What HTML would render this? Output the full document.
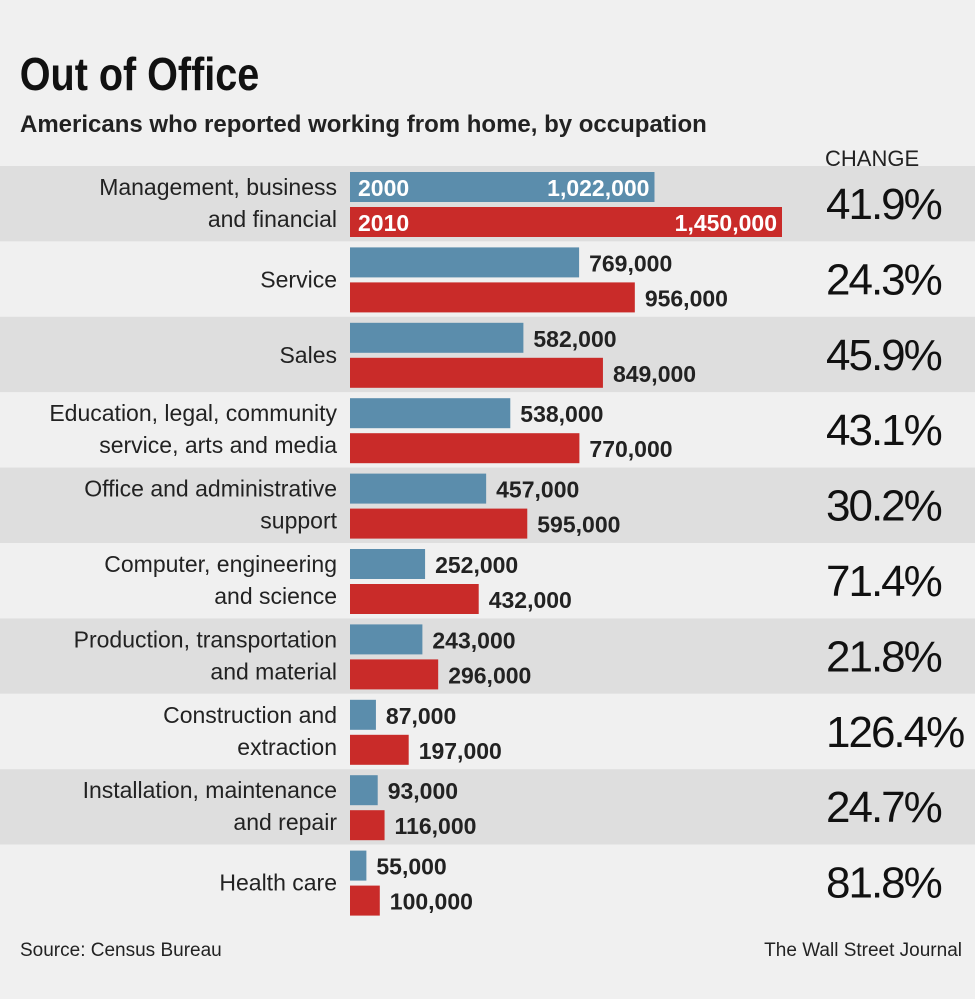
<!DOCTYPE html>
<html><head><meta charset="utf-8"><style>
body{margin:0;background:#f0f0f0;width:975px;height:994px;overflow:hidden;font-family:"Liberation Sans",sans-serif;color:#222}
</style></head><body>
<svg width="975" height="994" xmlns="http://www.w3.org/2000/svg" id="chart" font-family="Liberation Sans, sans-serif">
<rect width="975" height="994" fill="#f0f0f0"/>
<text x="23" y="90" font-size="46" font-weight="bold" fill="#111" transform="scale(0.86,1)">Out of Office</text>
<text x="20" y="132" font-size="24" font-weight="bold" fill="#222">Americans who reported working from home, by occupation</text>
<text x="825" y="166" font-size="22" fill="#222">CHANGE</text>
<g id="rows"></g>
<text x="20" y="956" font-size="19" fill="#222">Source: Census Bureau</text>
<text x="962" y="956" font-size="19" fill="#222" text-anchor="end">The Wall Street Journal</text>
</svg>
<script>
const categories=[["Management, business","and financial"],["Service"],["Sales"],["Education, legal, community","service, arts and media"],["Office and administrative","support"],["Computer, engineering","and science"],["Production, transportation","and material"],["Construction and","extraction"],["Installation, maintenance","and repair"],["Health care"]];
const values2000=[1022000,769000,582000,538000,457000,252000,243000,87000,93000,55000];
const values2010=[1450000,956000,849000,770000,595000,432000,296000,197000,116000,100000];
const changes=["41.9%","24.3%","45.9%","43.1%","30.2%","71.4%","21.8%","126.4%","24.7%","81.8%"];
const NS="http://www.w3.org/2000/svg";
const g=document.getElementById('rows');
const x0=350, xScale=v=>v*(432/1450000);
const rowTop=i=>166+i*75.4;
function mk(tag,attrs){const e=document.createElementNS(NS,tag);for(const k in attrs)e.setAttribute(k,attrs[k]);g.appendChild(e);return e;}
const fmt=v=>v.toLocaleString('en-US');
categories.forEach((c,i)=>{
  const y=rowTop(i);
  const band=mk('rect',{x:0,y:y,width:975,height:75.4,fill:i%2==0?'#dedede':'#f0f0f0'});
  
  
  if(c.length==2){
    [0,1].forEach(j=>{const t=mk('text',{x:337,y:y+29+j*32,'font-size':23,'text-anchor':'end',fill:'#222'});t.textContent=c[j];
    
    });
  } else {
    const t=mk('text',{x:337,y:y+46,'font-size':23,'text-anchor':'end',fill:'#222'});t.textContent=c[0];
    
    
  }
  [[values2000[i],'#5b8dac',6,'2000'],[values2010[i],'#c92b29',41,'2010']].forEach(([v,col,off,yr])=>{
    const w=xScale(v);
    const b=mk('rect',{x:x0,y:y+off,width:w,height:30,fill:col});
    
    
    const inside=i==0;
    const t=mk('text',{x:inside?x0+w-5:x0+w+10,y:y+off+24,'font-size':23,'font-weight':'bold','text-anchor':inside?'end':'start',fill:inside?'#fff':'#222'});
    t.textContent=fmt(v);
    
    
    if(inside){const yt=mk('text',{x:x0+8,y:y+off+24,'font-size':23,'font-weight':'bold',fill:'#fff'});yt.textContent=yr;
      
      }
  });
  const ch=mk('text',{x:826,y:y+53,'font-size':44,fill:'#111','letter-spacing':'-2'});
  ch.textContent=changes[i];
  
  
});
</script>
</body></html>
